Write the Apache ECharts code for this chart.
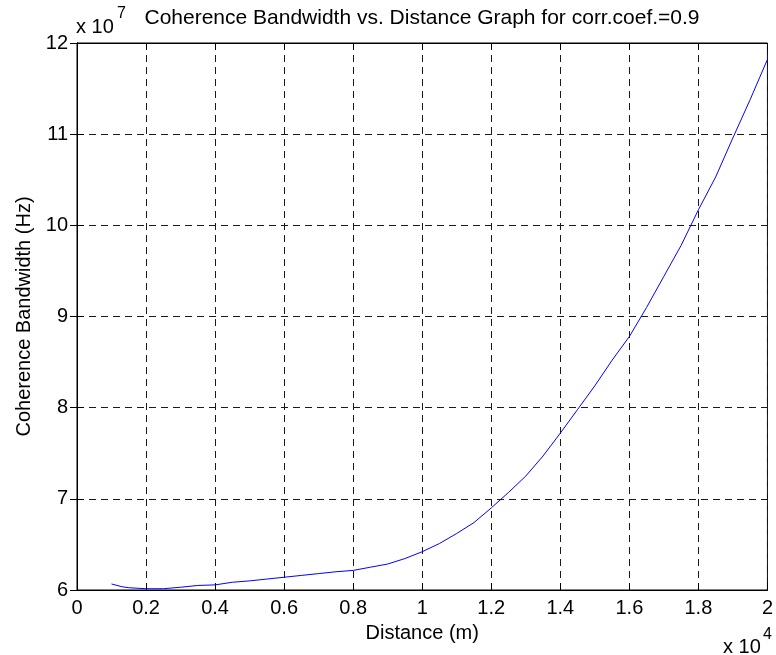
<!DOCTYPE html>
<html>
<head>
<meta charset="utf-8">
<script src="https://cdn.jsdelivr.net/npm/echarts@6/dist/echarts.min.js"></script>
<style>
  html, body { margin: 0; padding: 0; background: #fff; }
  #chart { width: 776px; height: 655px; }
</style>
</head>
<body>
<div id="chart"></div>
<script>
// Distance in metres
const distance = [
  1000, 1300, 1500, 2000, 2500, 3000, 3500, 4000, 4500, 5000,
  5500, 6000, 6500, 7000, 7500, 8000, 8500, 9000, 9500, 10000,
  10500, 11000, 11500, 12000, 12500, 13000, 13500, 14000, 14500, 15000,
  15500, 16000, 16500, 17000, 17500, 18000, 18500, 19000, 19500, 20000
];
// Coherence bandwidth in Hz (units of 1e7)
const bandwidthE7 = [
  6.066, 6.036, 6.025, 6.014, 6.014, 6.030, 6.050, 6.056, 6.085, 6.100,
  6.120, 6.140, 6.160, 6.180, 6.200, 6.215, 6.250, 6.285, 6.345, 6.420,
  6.510, 6.620, 6.740, 6.900, 7.070, 7.250, 7.470, 7.720, 7.980, 8.240,
  8.520, 8.780, 9.100, 9.440, 9.780, 10.170, 10.530, 10.960, 11.380, 11.820
];
const xTicks = ['0', '0.2', '0.4', '0.6', '0.8', '1', '1.2', '1.4', '1.6', '1.8', '2'];
const yTicks = ['6', '7', '8', '9', '10', '11', '12'];

const FONT = '"Liberation Sans", Arial, sans-serif';
const points = distance.map((d, i) => [d, bandwidthE7[i] * 1e7]);

const chart = echarts.init(document.getElementById('chart'), null, { renderer: 'canvas' });

const gridStyle = { color: '#1a1a1a', width: 1, type: [7, 5] };
const tickStyle = { show: true, inside: true, length: 7, lineStyle: { color: '#000' } };

chart.setOption({
  animation: false,
  backgroundColor: '#fff',
  grid: {
    left: 77, right: 5, top: 43, bottom: 65,
    show: true, borderColor: '#000', borderWidth: 1, backgroundColor: '#fff'
  },
  graphic: [
    { type: 'text', x: 422, y: 18, style: { text: 'Coherence Bandwidth vs. Distance Graph for corr.coef.=0.9', font: '21px ' + FONT, fill: '#000', align: 'center', verticalAlign: 'middle' } },
    { type: 'text', x: 76, y: 27, style: { text: 'x 10', font: '20px ' + FONT, fill: '#000', align: 'left', verticalAlign: 'middle' } },
    { type: 'text', x: 117, y: 14, style: { text: '7', font: '16px ' + FONT, fill: '#000', align: 'left', verticalAlign: 'middle' } },
    { type: 'text', x: 723, y: 647, style: { text: 'x 10', font: '20px ' + FONT, fill: '#000', align: 'left', verticalAlign: 'middle' } },
    { type: 'text', x: 763, y: 635, style: { text: '4', font: '16px ' + FONT, fill: '#000', align: 'left', verticalAlign: 'middle' } }
  ],
  xAxis: [{
    type: 'value', min: 0, max: 20000, interval: 2000,
    name: 'Distance (m)', nameLocation: 'middle', nameGap: 33,
    nameTextStyle: { fontFamily: FONT, fontSize: 20, color: '#000' },
    axisLine: { show: true, onZero: false, lineStyle: { color: '#000', width: 1 } },
    axisTick: tickStyle,
    axisLabel: {
      fontFamily: FONT, fontSize: 20, color: '#000', margin: 8,
      formatter: v => xTicks[Math.round(v / 2000)]
    },
    splitLine: { show: true, lineStyle: gridStyle }
  }, {
    type: 'value', position: 'top', min: 0, max: 20000, interval: 2000,
    axisLine: { show: true, onZero: false, lineStyle: { color: '#000', width: 1 } },
    axisTick: tickStyle,
    axisLabel: { show: false },
    splitLine: { show: false }
  }],
  yAxis: [{
    type: 'value', min: 6e7, max: 12e7, interval: 1e7,
    name: 'Coherence Bandwidth (Hz)', nameLocation: 'middle', nameGap: 42,
    nameTextStyle: { fontFamily: FONT, fontSize: 20, color: '#000' },
    axisLine: { show: true, lineStyle: { color: '#000', width: 1 } },
    axisTick: tickStyle,
    axisLabel: {
      fontFamily: FONT, fontSize: 20, color: '#000', margin: 9,
      formatter: v => yTicks[Math.round((v - 6e7) / 1e7)]
    },
    splitLine: { show: true, lineStyle: gridStyle }
  }, {
    type: 'value', position: 'right', min: 6e7, max: 12e7, interval: 1e7,
    axisLine: { show: true, lineStyle: { color: '#000', width: 1 } },
    axisTick: tickStyle,
    axisLabel: { show: false },
    splitLine: { show: false }
  }],
  series: [{
    type: 'line',
    data: points,
    showSymbol: false,
    smooth: false,
    lineStyle: { color: '#0000ff', width: 1 },
    itemStyle: { color: '#0000ff' },
    z: 5
  }]
});
</script>
</body>
</html>
